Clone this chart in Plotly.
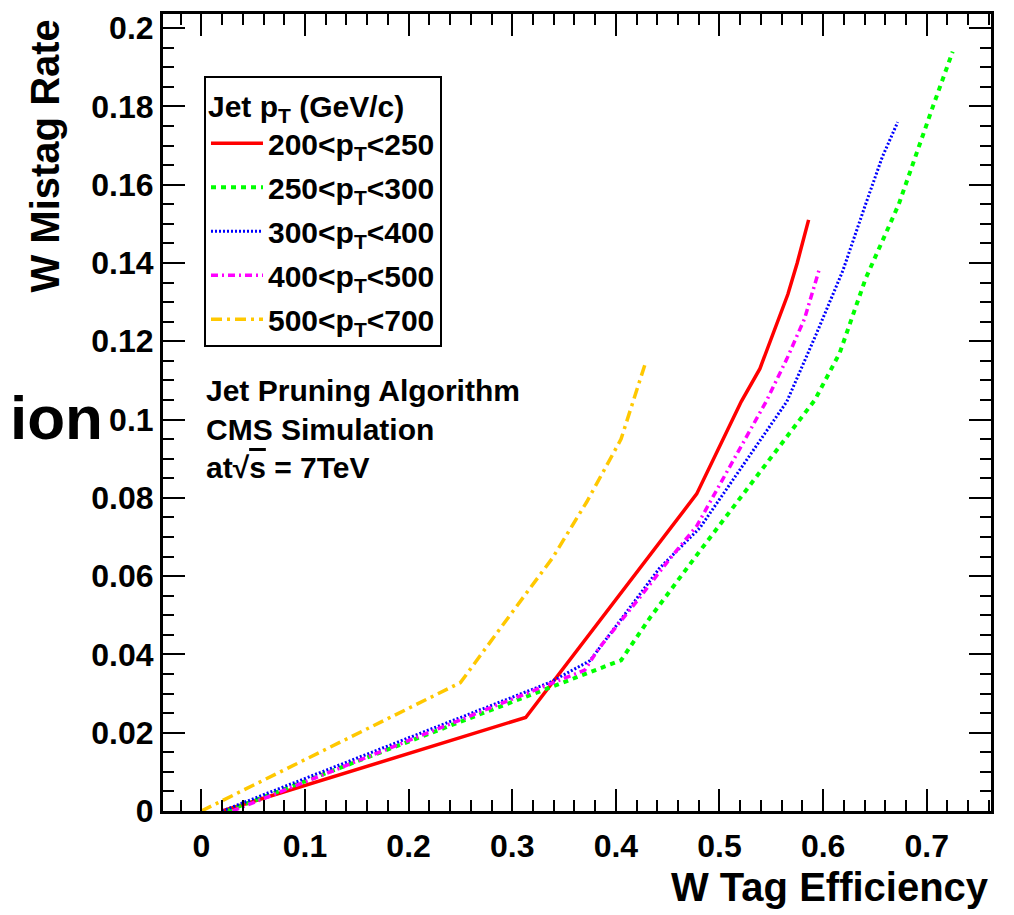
import plotly.graph_objects as go

# ---- data ----
names = ["200<p<sub>T</sub><250", "250<p<sub>T</sub><300", "300<p<sub>T</sub><400",
         "400<p<sub>T</sub><500", "500<p<sub>T</sub><700"]

x_200_250 = [0.02, 0.313, 0.478, 0.521, 0.539, 0.566, 0.575, 0.586]
y_200_250 = [0.0, 0.0239, 0.081, 0.1046, 0.113, 0.132, 0.140, 0.151]

x_250_300 = [0.025, 0.336, 0.405, 0.433, 0.481, 0.592, 0.616, 0.641, 0.673, 0.706, 0.725]
y_250_300 = [0.0, 0.0313, 0.0385, 0.0494, 0.0664, 0.105, 0.117, 0.136, 0.155, 0.180, 0.194]

x_300_400 = [0.02, 0.336, 0.375, 0.404, 0.442, 0.481, 0.565, 0.593, 0.619, 0.641, 0.657, 0.672]
y_300_400 = [0.0, 0.0328, 0.0384, 0.0486, 0.062, 0.0723, 0.1046, 0.1216, 0.138, 0.155, 0.167, 0.176]

x_400_500 = [0.03, 0.37, 0.384, 0.423, 0.449, 0.478, 0.545, 0.565, 0.582, 0.597]
y_400_500 = [0.0, 0.036, 0.0417, 0.0545, 0.0634, 0.0728, 0.1046, 0.1155, 0.1257, 0.139]

x_500_700 = [0.0, 0.25, 0.295, 0.339, 0.372, 0.405, 0.428]
y_500_700 = [0.0, 0.0328, 0.049, 0.0647, 0.079, 0.095, 0.114]

xs = [x_200_250, x_250_300, x_300_400, x_400_500, x_500_700]
ys = [y_200_250, y_250_300, y_300_400, y_400_500, y_500_700]

colors = ["#ff0000", "#00ff00", "#0000ff", "#ff00ff", "#ffc800"]
dashes = ["solid", "5px,5px", "2px,2px", "7px,4px,2px,4px", "11px,5px,3px,5px"]
widths = [3.5, 4, 3, 3.5, 3.5]

FONT = "Liberation Sans, Arial, Helvetica, sans-serif"

fig = go.Figure()
for i in range(5):
    fig.add_trace(go.Scatter(
        x=xs[i], y=ys[i], mode="lines", name=names[i],
        legendgroup="g%d" % i,
        line=dict(color=colors[i], dash=dashes[i], width=widths[i]),
    ))

axis_common = dict(
    showline=True, linecolor="black", linewidth=3, mirror="allticks",
    ticks="inside", tickcolor="black", tickwidth=2,
    showgrid=False, zeroline=False,
    tickfont=dict(family=FONT, size=32, color="black", weight="bold"),
)

fig.update_xaxes(range=[-0.037, 0.762], dtick=0.1, tick0=0, ticklen=22,
                 minor=dict(ticks="inside", dtick=0.02, tick0=0, ticklen=11,
                            tickwidth=2, tickcolor="black", showgrid=False),
                 ticklabelstandoff=5,
                 **axis_common)
fig.update_yaxes(range=[0, 0.2036], dtick=0.02, tick0=0, ticklen=22,
                 minor=dict(ticks="inside", dtick=0.005, tick0=0, ticklen=11,
                            tickwidth=2, tickcolor="black", showgrid=False),
                 ticklabelstandoff=0,
                 **axis_common)

fig.update_layout(
    width=1014, height=915,
    margin=dict(l=163, r=23, t=10, b=104),
    paper_bgcolor="white", plot_bgcolor="white",
    font=dict(family=FONT, color="black"),
    legend=dict(
        x=0.0495, y=0.922, xanchor="left", yanchor="top",
        bgcolor="white", bordercolor="black", borderwidth=2,
        font=dict(family=FONT, size=30, color="black", weight="bold"),
        title=dict(text="Jet p<sub>T</sub> (GeV/c)",
                   font=dict(family=FONT, size=30, color="black", weight="bold")),
        tracegroupgap=2,
        itemwidth=52,
    ),
    annotations=[
        dict(text="W Tag Efficiency", xref="paper", yref="paper", x=1.0, y=-0.095,
             xanchor="right", yanchor="middle", showarrow=False,
             font=dict(family=FONT, size=40, color="black", weight="bold")),
        dict(text="W Mistag Rate", xref="paper", yref="paper", x=-0.1425, y=0.995,
             xanchor="center", yanchor="top", textangle=-90, showarrow=False,
             font=dict(family=FONT, size=40, color="black", weight="bold")),
        dict(text="ion", xref="paper", yref="paper", x=-0.070, y=0.494,
             xanchor="right", yanchor="middle", showarrow=False,
             font=dict(family=FONT, size=62, color="black", weight="bold")),
        dict(text="Jet Pruning Algorithm", xref="paper", yref="paper", x=0.0495, y=0.528,
             xanchor="left", yanchor="middle", showarrow=False,
             font=dict(family=FONT, size=30, color="black", weight="bold")),
        dict(text="CMS Simulation", xref="paper", yref="paper", x=0.0495, y=0.479,
             xanchor="left", yanchor="middle", showarrow=False,
             font=dict(family=FONT, size=30, color="black", weight="bold")),
        dict(text="at√<span style='text-decoration:overline'>s</span> = 7TeV",
             xref="paper", yref="paper", x=0.0495, y=0.431,
             xanchor="left", yanchor="middle", showarrow=False,
             font=dict(family=FONT, size=30, color="black", weight="bold")),
    ],
)

fig.write_html("out.html")
